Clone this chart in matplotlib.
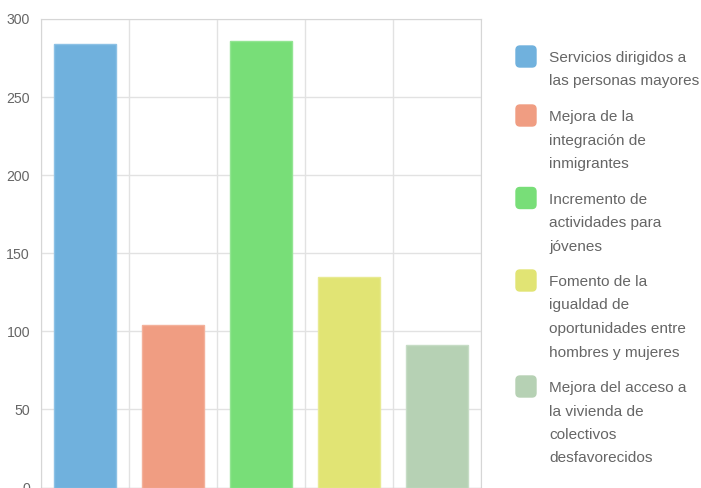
import numpy as np
import matplotlib.pyplot as plt
from matplotlib.patches import FancyBboxPatch

# data
categories = [
    "Servicios dirigidos a las personas mayores",
    "Mejora de la integración de inmigrantes",
    "Incremento de actividades para jóvenes",
    "Fomento de la igualdad de oportunidades entre hombres y mujeres",
    "Mejora del acceso a la vivienda de colectivos desfavorecidos",
]
legend_lines = [
    ["Servicios dirigidos a", "las personas mayores"],
    ["Mejora de la", "integración de", "inmigrantes"],
    ["Incremento de", "actividades para", "jóvenes"],
    ["Fomento de la", "igualdad de", "oportunidades entre", "hombres y mujeres"],
    ["Mejora del acceso a", "la vivienda de", "colectivos", "desfavorecidos"],
]
values = [284, 104, 286, 135, 91]
colors = ["#70b1dd", "#f09d82", "#78de78", "#e1e474", "#b6d1b4"]
edges = ["#8cc1e5", "#f3b19b", "#92e592", "#e8ea92", "#c6dcc5"]
y_ticks = [0, 50, 100, 150, 200, 250, 300]

plt.rcParams['font.family'] = ['Liberation Sans', 'DejaVu Sans']

W, H = 701, 488
fig = plt.figure(figsize=(W / 100, H / 100), dpi=100)

ax = fig.add_axes([41 / W, 0.5 / H, 440 / W, 468.5 / H])
x = np.arange(len(values))
ax.bar(x, values, width=0.71, color=colors, edgecolor=edges, linewidth=1, zorder=3)
ax.set_xlim(-0.5, len(values) - 0.5)
ax.set_ylim(0, 300)
ax.set_yticks(y_ticks)
ax.set_xticks([])
ax.set_xticks(np.arange(len(values) + 1) - 0.5, minor=True)
ax.tick_params(axis='y', length=0, pad=8, labelsize=10.2, labelcolor='#666666')
ax.tick_params(axis='x', which='minor', length=0)
ax.grid(axis='y', color='#e2e2e2', linewidth=1, zorder=0)
ax.grid(axis='x', which='minor', color='#e2e2e2', linewidth=1, zorder=0)
for s in ['left', 'right', 'top']:
    ax.spines[s].set_color('#d6d6d6')
ax.spines['bottom'].set_color('#aaaaaa')

# legend drawn in pixel coordinates
lg = fig.add_axes([0, 0, 1, 1])
lg.set_xlim(0, W)
lg.set_ylim(H, 0)
lg.axis('off')
line_h = 23.5
cy = 56.5
for lines, c in zip(legend_lines, colors):
    lg.add_patch(FancyBboxPatch((516, cy - 10.5), 20, 21,
                                boxstyle="round,pad=0,rounding_size=4",
                                facecolor=c, edgecolor=c, linewidth=1))
    for k, t in enumerate(lines):
        lg.text(549, cy + 5.5 + k * line_h, t, fontsize=11.1, color='#666666',
                va='baseline', ha='left')
    cy += len(lines) * line_h + 12

fig.savefig("out.png", dpi=100)
